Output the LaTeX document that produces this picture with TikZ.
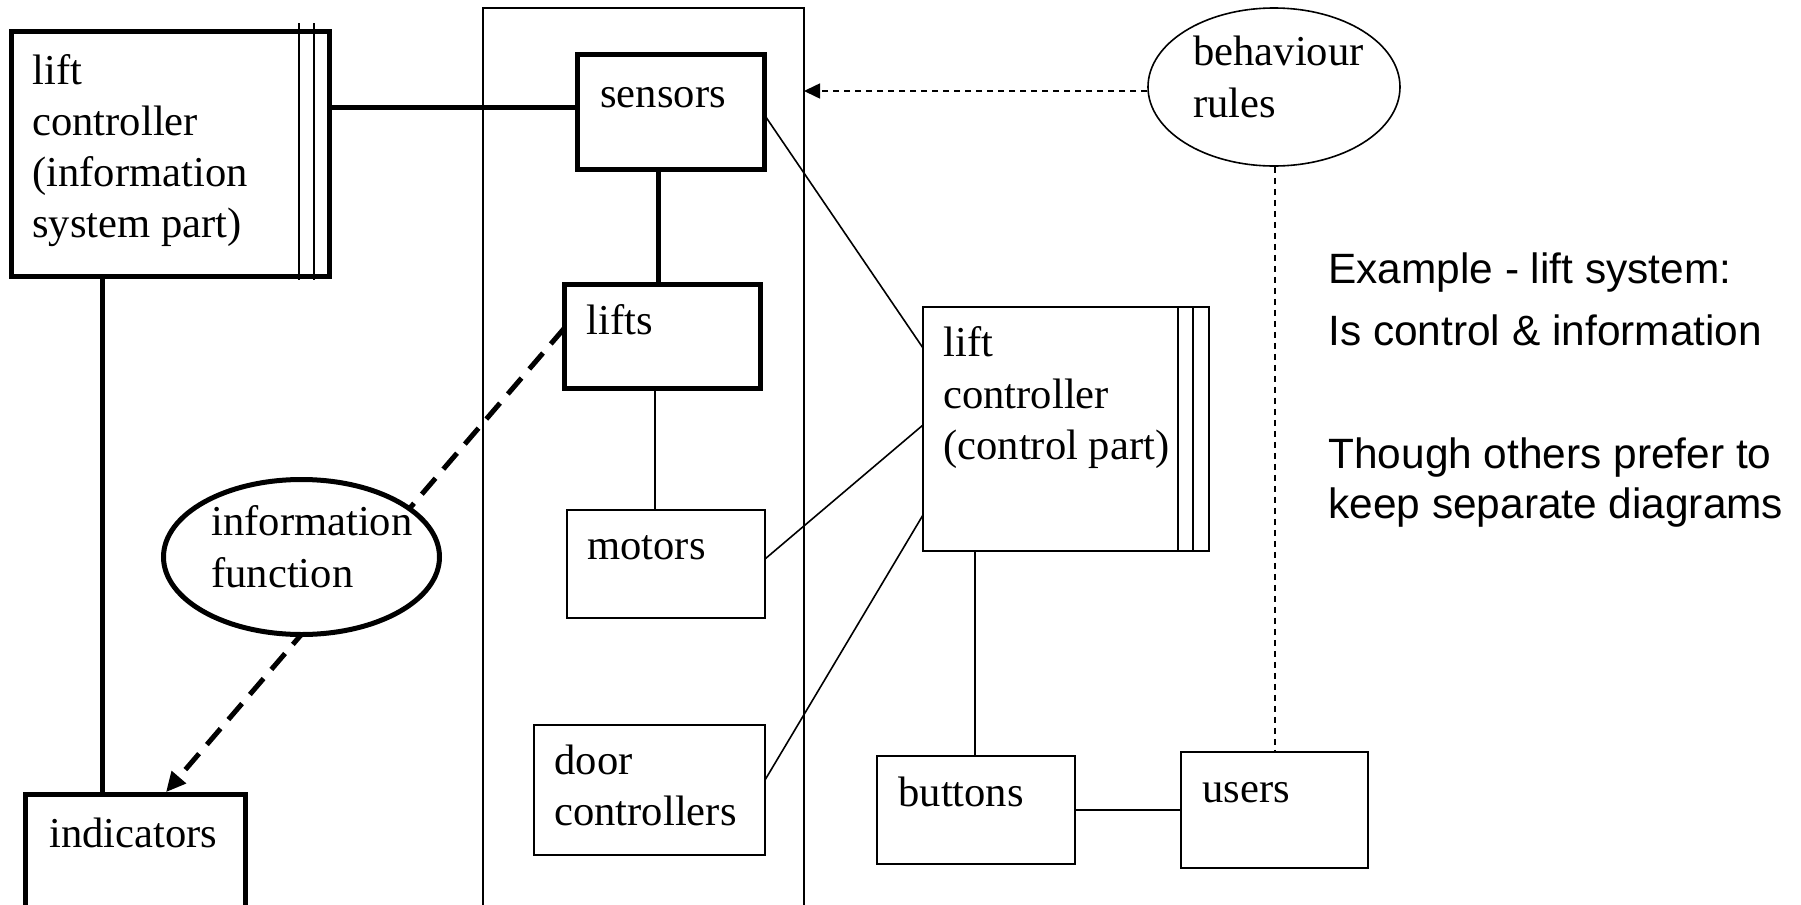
\documentclass[tikz,border=0pt]{standalone}
\usepackage{fontspec}
\setmainfont{Liberation Serif}
\newfontfamily\notefont{Liberation Sans}
\usetikzlibrary{fit,shapes.geometric,arrows.meta}
\begin{document}
\begin{tikzpicture}[x=0.5pt,y=-0.5pt,
  thickline/.style={line width=2.5pt},
  thinline/.style={line width=0.8pt},
  box/.style={draw, rectangle, inner sep=0pt, outer sep=0pt},
  heavybox/.style={box, thickline},
  lightbox/.style={box, thinline},
  lbl/.style={anchor=base west, inner sep=0pt, font=\fontsize{21.3}{25}\selectfont},
  note/.style={anchor=base west, inner sep=0pt, font=\notefont\fontsize{21.2}{25}\selectfont},
  bigdash/.style={thickline, dash pattern=on 10.5pt off 6pt},
  smalldash/.style={thinline, dash pattern=on 3pt off 2.5pt},
  bigtip/.style={-{Triangle[length=10pt,width=9pt]}},
  smalltip/.style={-{Triangle[length=8pt,width=7.5pt]}},
]
\useasboundingbox (0,0) rectangle (1801,905);
\clip (0,0) rectangle (1801,905);

% helper coordinates for connector heights and columns
\coordinate (y91) at (0,91);
\coordinate (y107) at (0,107);
\coordinate (y115) at (0,115);
\coordinate (y328) at (0,328);
\coordinate (y348) at (0,348);
\coordinate (y425) at (0,425);
\coordinate (y515) at (0,515);
\coordinate (y559) at (0,559);
\coordinate (y780) at (0,780);
\coordinate (y810) at (0,810);
\coordinate (x102) at (102,0);
\coordinate (x164) at (164,0);
\coordinate (x655) at (655,0);
\coordinate (x658) at (658,0);
\coordinate (x975) at (975,0);
\coordinate (x1275) at (1275,0);

% system boundary
\node[lightbox, fit={(483,8)(804,940)}] (sys) {};

% information system part
\node[heavybox, fit={(11,31)(329,276)}] (infoctl) {};
\draw[thinline] (299,23) -- (299,280);
\draw[thinline] (314,23) -- (314,280);
\node[lbl] (t1) at (32,84) {lift};
\node[lbl] (t2) at (32,135) {controller};
\node[lbl] (t3) at (32,186) {(information};
\node[lbl] (t4) at (32,237) {system part)};

\node[heavybox, fit={(25.5,794.5)(245.5,920)}] (indicators) {};
\node[lbl] (t5) at (49,847) {indicators};

% domain boxes
\node[heavybox, fit={(577.5,54.5)(764.5,169.5)}] (sensors) {};
\node[lbl] (t6) at (600,107) {sensors};
\node[heavybox, fit={(564.5,284.5)(760.5,388.5)}] (lifts) {};
\node[lbl] (t7) at (586,334) {lifts};
\node[lightbox, fit={(567,510)(765,618)}] (motors) {};
\node[lbl] (t8) at (587,559) {motors};
\node[lightbox, fit={(534,725)(765,855)}] (doors) {};
\node[lbl] (t9) at (554,774) {door};
\node[lbl] (t10) at (554,825) {controllers};

% control part
\node[lightbox, fit={(923,307)(1209,551)}] (ctl) {};
\draw[thinline] (1178,307) -- (1178,551);
\draw[thinline] (1193,307) -- (1193,551);
\node[lbl] (t11) at (943,356) {lift};
\node[lbl] (t12) at (943,408) {controller};
\node[lbl] (t13) at (943,459) {(control part)};

\node[lightbox, fit={(877,756)(1075,864)}] (buttons) {};
\node[lbl] (t14) at (898,806) {buttons};
\node[lightbox, fit={(1181,752)(1368,868)}] (users) {};
\node[lbl] (t15) at (1202,802) {users};

% connectors
\draw[thickline] (infoctl.east |- y107) -- (sensors.west |- y107);
\draw[thickline] (sensors.south -| x658) -- (lifts.north -| x658);
\draw[thinline] (lifts.south -| x655) -- (motors.north -| x655);
\draw[thickline] (infoctl.south -| x102) -- (indicators.north -| x102);
\draw[bigdash, bigtip, shorten >=1.5pt] (lifts.west |- y328) -- (indicators.north -| x164);

\draw[thinline] (sensors.east |- y115) -- (ctl.west |- y348);
\draw[thinline] (motors.east |- y559) -- (ctl.west |- y425);
\draw[thinline] (doors.east |- y780) -- (ctl.west |- y515);
\draw[thinline] (ctl.south -| x975) -- (buttons.north -| x975);
\draw[thinline] (buttons.east |- y810) -- (users.west |- y810);

% functions
\node[ellipse, draw, thickline, fill=white, inner sep=0pt,
      minimum width=138pt, minimum height=77.5pt] (infofn) at (301.5,557) {};
\node[lbl] (t16) at (211,535) {information};
\node[lbl] (t17) at (211,587) {function};

\node[ellipse, draw, thinline, fill=white, inner sep=0pt,
      minimum width=126pt, minimum height=79pt] (rules) at (1274,87) {};
\node[lbl] (t18) at (1193,65) {behaviour};
\node[lbl] (t19) at (1193,117) {rules};

\draw[smalldash, smalltip] (rules.west |- y91) -- (sys.east |- y91);
\draw[smalldash] (rules.south -| x1275) -- (users.north -| x1275);

% notes
\node[note] (n1) at (1328,283) {Example - lift system:};
\node[note] (n2) at (1328,345) {Is control \& information};
\node[note] (n3) at (1328,468) {Though others prefer to};
\node[note] (n4) at (1328,518) {keep separate diagrams};
\end{tikzpicture}
\end{document}
